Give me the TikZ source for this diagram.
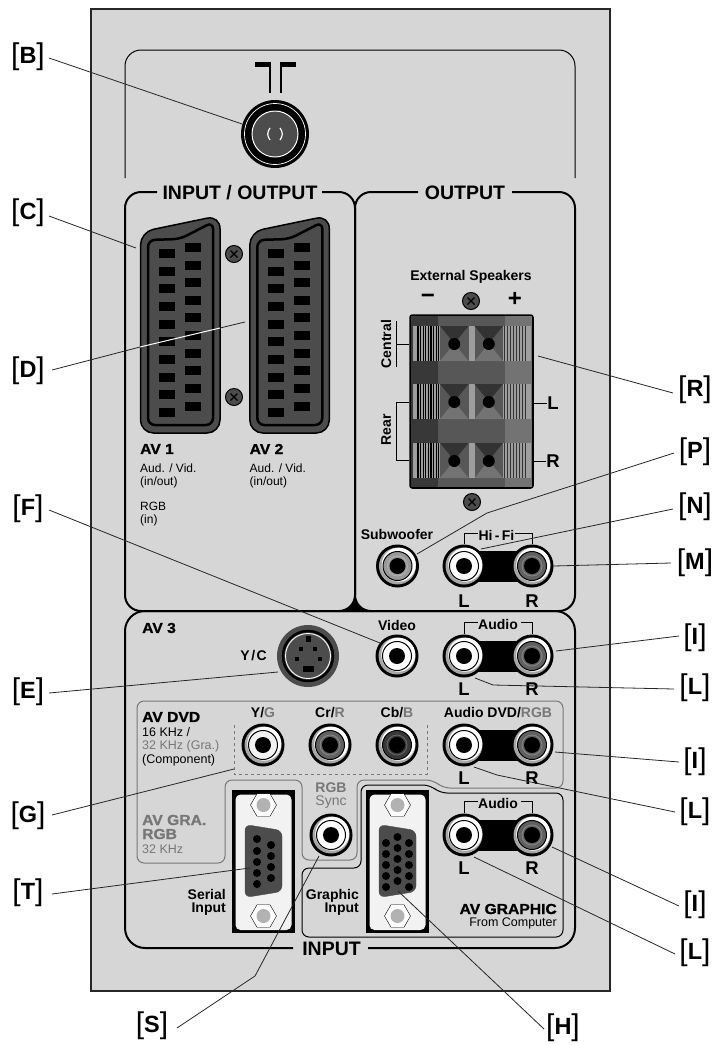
\documentclass[tikz,border=0pt]{standalone}
\usepackage{fontspec}
\setmainfont{Liberation Sans}
\newfontfamily\heavyfont[UprightFont=* Bold,FakeBold=1.0,FakeStretch=1.08]{Liberation Sans}
\usepackage{tikz}
\usetikzlibrary{shapes.geometric, positioning, calc}
\definecolor{panelgray}{HTML}{D6D6D6}
\definecolor{metal}{HTML}{4C4C4C}
\definecolor{softgray}{HTML}{777777}
\definecolor{cream}{HTML}{F2F2F2}
\tikzstyle{leader} = [line width=0.8pt, black!85]
\tikzstyle{boxline} = [line width=2pt, rounded corners=16pt]
\tikzstyle{tag} = [font=\fontsize{23.5}{26}\selectfont, inner sep=0pt]
\tikzstyle{title} = [font=\fontsize{19.5}{22}\selectfont\bfseries, inner sep=0pt]
\tikzstyle{boldlabel} = [font=\fontsize{14}{14}\selectfont\bfseries, inner sep=0pt]
\tikzstyle{sidelabel} = [font=\fontsize{18.5}{20}\selectfont\bfseries, inner sep=0pt]
\tikzstyle{small} = [font=\fontsize{12}{14}\selectfont, inner sep=0pt, anchor=west]
\tikzstyle{heavy} = [font=\fontsize{14.5}{15}\selectfont\heavyfont, inner sep=0pt, anchor=west]
\tikzstyle{jackbody} = [circle, fill=black, minimum size=43pt, inner sep=0pt]
\tikzstyle{screw} = [circle, draw=black, line width=1pt, fill=metal, minimum size=17pt, inner sep=0pt]
\tikzstyle{nut} = [regular polygon, regular polygon sides=6, draw=black, fill=white, minimum size=26pt, inner sep=0pt]
\tikzset{every node/.style={align=center}}
\newcommand{\tagtext}[1]{{\fontsize{30}{30}\selectfont\raisebox{-1.4pt}{[}}\textbf{#1}{\fontsize{30}{30}\selectfont\raisebox{-1.4pt}{]}}}
\newcommand{\rcajack}[4]{
    \colorlet{jackfill}{#4}
    \node (#1) [jackbody] at (#2,#3) {};
    \fill [gray!70] (#1) circle (18.5pt);
    \fill [white] ($(#1)+(1.3,-1.3)$) circle (17pt);
    \draw [black, line width=1pt, fill=jackfill] (#1) circle (14.5pt);
    \draw [jackfill!75!white, line width=0.8pt] (#1) circle (10pt);
    \fill [black] (#1) circle (8pt);
}
\newcommand{\plugscrew}[3]{
    \node (#1) [screw] at (#2,#3) {};
    \draw [black, line width=1.2pt] ($(#1)+(-3.5,3.5)$) -- ($(#1)+(3.5,-3.5)$);
    \draw [black, line width=1.2pt] ($(#1)+(-3.5,-3.5)$) -- ($(#1)+(3.5,3.5)$);
}
\newcommand{\scart}[2]{
    \begin{scope}[xshift=#2pt]
    \node (#1) [inner sep=0pt, minimum width=80pt, minimum height=215pt] at (180,326) {};
    \draw [black, line width=1.5pt, fill=metal, rounded corners=13pt] (140.5,433) -- (140.5,232) -- (220,215.5) -- (220,433) -- cycle;
    \draw [black, line width=2.5pt, rounded corners=7pt] (148,425) -- (148,240) -- (180,239) -- (213,222) -- (213,425) -- cycle;
    \foreach \yy in {253.5,271.7,288.7,306,324,341,359,377,394,412}
        \fill [black] (158.7,\yy-4.5) rectangle (174.7,\yy+4.5);
    \foreach \yy in {247,265,282,300.7,317.7,335,353,370.7,388,406}
        \fill [black] (185,\yy-4.5) rectangle (201,\yy+4.5);
    \end{scope}
}
\newcommand{\dsubframe}[3]{
    \node (#1) [fill=black, minimum width=63pt, minimum height=143pt, inner sep=0pt] at (#2,#3) {};
    \fill [cream, rounded corners=5pt] ($(#1)+(-28,-67)$) rectangle ($(#1)+(28,68.5)$);
    \node (#1top) [nut] at ($(#1)+(0,-56.5)$) {};
    \node (#1low) [nut] at ($(#1)+(0,54.5)$) {};
    \fill [black!30] (#1top) circle (7pt);
    \fill [black!30] (#1low) circle (7pt);
    \draw [black!70, fill=metal, rounded corners=6pt] ($(#1)+(-18.5,-37)$) -- ($(#1)+(18.5,-31)$) -- ($(#1)+(18.5,30)$) -- ($(#1)+(-18.5,36)$) -- cycle;
}
\begin{document}
\begin{tikzpicture}[x=1pt,y=-1pt]
    \useasboundingbox (0,0) rectangle (715,1045);
    \node (panel) [draw=black!85, line width=2pt, fill=panelgray, minimum width=519pt, minimum height=982pt, inner sep=0pt] at (350.5,500) {};

    \draw [line width=1pt, rounded corners=16pt] (125,178) -- (125,50) -- (575,50) -- (575,178);
    \draw [boxline] (157,192) -- (125,192) -- (125,611) -- (355,611) -- (355,192) -- (322,192);
    \draw [boxline] (418,192) -- (355,192) -- (355,611) -- (575,611) -- (575,192) -- (512,192);
    \draw [boxline, rounded corners=20pt] (293,948) -- (125,948) -- (125,611) -- (575,611) -- (575,948) -- (368,948);
    \fill [black] (339,612) .. controls (348,610) and (353,606) .. (355,596) .. controls (357,606) and (362,610) .. (371,612) -- cycle;

    \node (ioTitle) [title] at (240,193) {INPUT / OUTPUT};
    \node (outTitle) [title] at (465,193) {OUTPUT};
    \node (inTitle) [title] at (331.5,949) {INPUT};

    \fill [black] (255,62) rectangle (271,67);
    \fill [black] (280,62) rectangle (296,67);
    \draw [black, line width=1.6pt] (270,64) -- (270,93);
    \draw [black, line width=1.6pt] (281,64) -- (281,93);
    \node (antenna) [circle, fill=black, minimum size=68pt, inner sep=0pt] at (275,134) {};
    \draw [white, line width=0.7pt] (antenna) circle (30.5pt);
    \draw [white, line width=1pt, fill=metal] (antenna) circle (23pt);
    \draw [white, line width=1.2pt] (270,128) .. controls (267,132) and (267,136) .. (270,140);
    \draw [white, line width=1.2pt] (280,128) .. controls (283,132) and (283,136) .. (280,140);

    \scart{avOne}{0}
    \scart{avTwo}{109.3}
    \plugscrew{screwA}{234}{254}
    \plugscrew{screwB}{234}{397}
    \node (avOneName) [heavy] at (140,449) {AV 1};
    \node (avOneKind) [small] at (140,468) {Aud. / Vid.};
    \node (avOneDir) [small] at (140,482) {(in/out)};
    \node (avOneRgb) [small] at (140,506) {RGB};
    \node (avOneIn) [small] at (140,520) {(in)};
    \node (avTwoName) [heavy] at (249.5,449) {AV 2};
    \node (avTwoKind) [small] at (249.5,468) {Aud. / Vid.};
    \node (avTwoDir) [small] at (249.5,482) {(in/out)};

    \node (speakerTitle) [boldlabel] at (471,277) {External Speakers};
    \node (minusSign) [font=\fontsize{24}{24}\selectfont\bfseries, inner sep=0pt] at (428,299) {\char"2212};
    \node (plusSign) [font=\fontsize{24}{24}\selectfont\bfseries, inner sep=0pt] at (515,299) {+};
    \plugscrew{screwC}{471}{301}
    \plugscrew{screwD}{472}{502}
    \node (speakers) [draw=black, line width=2.5pt, rounded corners=2pt, minimum width=122pt, minimum height=172pt, inner sep=0pt] at (471.5,401.5) {};
    \fill [black!78] (411,316) rectangle (438,487);
    \fill [black!66] (438,316) rectangle (505,487);
    \fill [black!55] (505,316) rectangle (532,487);
    \foreach \rowtop in {326,384,443} {
        \fill [black!38] (413,\rowtop) rectangle (531,\rowtop+35);
        \foreach \xx in {418,420.6,...,440} \draw [black, line width=1.1pt] (\xx,\rowtop) -- (\xx,\rowtop+35);
        \foreach \xx in {504,507,...,526} \draw [black!80, line width=0.9pt] (\xx,\rowtop) -- (\xx,\rowtop+35);
        \foreach \cellx in {440,474.5} {
            \fill [black!66] (\cellx,\rowtop) rectangle (\cellx+28.5,\rowtop+35);
            \fill [black!80] (\cellx,\rowtop) -- (\cellx+28.5,\rowtop) -- (\cellx+14.25,\rowtop+17.5) -- cycle;
            \fill [black!55] (\cellx,\rowtop+35) -- (\cellx+28.5,\rowtop+35) -- (\cellx+14.25,\rowtop+17.5) -- cycle;
            \fill [black] (\cellx+14.25,\rowtop+18) circle (6pt);
        }
    }
    \node (centralName) [boldlabel, rotate=90] at (386,344) {Central};
    \node (rearName) [boldlabel, rotate=90] at (386,430) {Rear};
    \coordinate (centralTick) at (396,344);
    \draw [line width=0.8pt] (396,321) -- (396,367);
    \draw [line width=0.8pt] (centralTick) -- (speakers.west |- centralTick);
    \coordinate (rearTop) at (396,402);
    \coordinate (rearLow) at (396,460);
    \draw [line width=0.8pt] (speakers.west |- rearTop) -- (rearTop) -- (rearLow) -- (speakers.west |- rearLow);
    \node (spkL) [sidelabel] at (553,403) {L};
    \node (spkR) [sidelabel] at (553,461) {R};
    \draw [line width=0.8pt] (speakers.east |- spkL) -- (spkL);
    \draw [line width=0.8pt] (speakers.east |- spkR) -- (spkR);

    \foreach \yy in {566,656,745,835} \fill [black] (464,\yy-15.5) rectangle (532,\yy+15.5);

    \node (subName) [boldlabel] at (397,534) {Subwoofer};
    \rcajack{subJack}{397.5}{566}{black!40}
    \node (hifiName) [boldlabel] at (496.5,535) {Hi\,-\,Fi};
    \rcajack{hifiL}{464}{566}{white}
    \rcajack{hifiR}{532}{566}{black!62}
    \draw [line width=0.9pt] (hifiL.north) -- (464,533) -- (478,533);
    \draw [line width=0.9pt] (hifiR.north) -- (532,533) -- (515,533);
    \node (hifiLName) [sidelabel] at (464,601) {L};
    \node (hifiRName) [sidelabel] at (532,601) {R};

    \node (avThree) [heavy] at (142,628) {AV 3};
    \node (ycName) [boldlabel, anchor=east] at (267,656) {Y\kern1.5pt/\kern1.5pt C};
    \node (svideo) [circle, fill=metal, minimum size=62pt, inner sep=0pt] at (308,656) {};
    \draw [black, line width=2.5pt] (svideo) circle (25pt);
    \draw [white, line width=0.9pt, fill=metal] (svideo) circle (22.5pt);
    \fill [black] (305.5,636) rectangle (310.5,642);
    \foreach \px/\py in {301/649,315/649,297/659,320/659} \fill [black] (\px-2,\py-2) rectangle (\px+2,\py+2);
    \fill [black] (302.5,666) rectangle (313.5,672);

    \node (videoName) [boldlabel] at (397,625) {Video};
    \rcajack{videoJack}{397}{656}{white}
    \node (audioName) [boldlabel] at (498,624) {Audio};
    \rcajack{audioL}{464}{656}{white}
    \rcajack{audioR}{532}{656}{black!62}
    \draw [line width=0.9pt] (audioL.north) -- (464,622.5) -- (478,622.5);
    \draw [line width=0.9pt] (audioR.north) -- (532,622.5) -- (521,622.5);
    \node (audioLName) [sidelabel] at (464,689) {L};
    \node (audioRName) [sidelabel] at (532,689) {R};

    \draw [softgray, line width=1pt, rounded corners=7pt] (137,701) -- (563,701) -- (563,788) -- (443,788) -- (433,780) -- (357,780) -- (357,860) -- (302,860) -- (302,780) -- (225,780) -- (225,863) -- (137,863) -- cycle;
    \draw [line width=1pt, rounded corners=7pt] (302,937) -- (302,868) -- (361,868) -- (361,785) -- (430,785) -- (440,793) -- (563,793) -- (563,937) -- cycle;
    \draw [softgray, line width=1pt, dashed] (234,725) -- (234,774) -- (427,774) -- (427,725);

    \node (dvdName) [heavy] at (142,717) {AV DVD};
    \node (dvdRate) [small, font=\fontsize{12.5}{14}\selectfont] at (142,732) {16 KHz /};
    \node (dvdGra) [small, font=\fontsize{12.5}{14}\selectfont, softgray] at (142,746) {32 KHz (Gra.)};
    \node (dvdComp) [small, font=\fontsize{12.5}{14}\selectfont] at (142,760) {(Component)};
    \node (graName) [heavy, softgray] at (142,820) {AV GRA.};
    \node (graRgb) [heavy, softgray] at (142,834) {RGB};
    \node (graRate) [small, font=\fontsize{12.5}{14}\selectfont, softgray] at (142,849) {32 KHz};

    \node (ygName) [boldlabel] at (263,713) {Y/\textcolor{softgray}{G}};
    \node (crName) [boldlabel] at (330,713) {Cr/\textcolor{softgray}{R}};
    \node (cbName) [boldlabel] at (397,713) {Cb/\textcolor{softgray}{B}};
    \rcajack{ygJack}{263}{745}{cream}
    \rcajack{crJack}{330}{745}{black!62}
    \rcajack{cbJack}{397}{745}{black!78}
    \node (dvdAudio) [boldlabel] at (498,713) {Audio DVD/\textcolor{softgray}{RGB}};
    \rcajack{dvdL}{464}{745}{white}
    \rcajack{dvdR}{532}{745}{black!62}
    \node (dvdLName) [sidelabel] at (464,778) {L};
    \node (dvdRName) [sidelabel] at (532,778) {R};

    \dsubframe{serial}{263.5}{861.5}
    \foreach \px/\py in {257/839,257/851,257/862,257/873,257/884,271/845,271/856,271/867,271/878} \fill [black] (\px,\py) circle (4pt);
    \node (serialName) [boldlabel, anchor=east, align=right, font=\fontsize{14}{13.5}\selectfont\bfseries] at (226,902.5) {Serial\\Input};
    \node (syncRgb) [boldlabel, softgray] at (331,788) {RGB};
    \node (syncName) [softgray, inner sep=0pt, font=\fontsize{14}{14}\selectfont] at (331,802) {Sync};
    \rcajack{syncJack}{331}{835}{white}
    \dsubframe{vga}{397.5}{861.5}
    \foreach \px in {386,409} \foreach \py in {843,854,865,876,887} \fill [black] (\px,\py) circle (4pt);
    \foreach \py in {837,848,859,870,881} \fill [black] (397.5,\py) circle (4pt);
    \node (graphicName) [boldlabel, anchor=east, align=right, font=\fontsize{14}{13.5}\selectfont\bfseries] at (359,902.5) {Graphic\\Input};
    \node (gAudioName) [boldlabel] at (498,803) {Audio};
    \rcajack{gaudioL}{464}{835}{white}
    \rcajack{gaudioR}{532}{835}{black!62}
    \draw [line width=0.9pt] (gaudioL.north) -- (464,801.5) -- (478,801.5);
    \draw [line width=0.9pt] (gaudioR.north) -- (532,801.5) -- (521,801.5);
    \node (gLName) [sidelabel] at (464,868) {L};
    \node (gRName) [sidelabel] at (532,868) {R};
    \node (computerName) [heavy, anchor=east] at (557,909) {AV GRAPHIC};
    \node (computerFrom) [small, anchor=east, font=\fontsize{12.5}{14}\selectfont] at (557,923) {From Computer};

    \node (tagB) [tag] at (28,57) {\tagtext{B}};
    \node (tagC) [tag] at (28,213) {\tagtext{C}};
    \node (tagD) [tag] at (28,371) {\tagtext{D}};
    \node (tagF) [tag] at (28,509) {\tagtext{F}};
    \node (tagE) [tag] at (28,692) {\tagtext{E}};
    \node (tagG) [tag] at (28,816) {\tagtext{G}};
    \node (tagT) [tag] at (28,893) {\tagtext{T}};
    \node (tagS) [tag] at (152,1026) {\tagtext{S}};
    \node (tagH) [tag] at (563,1028) {\tagtext{H}};
    \node (tagR) [tag] at (695,390) {\tagtext{R}};
    \node (tagP) [tag] at (695,452) {\tagtext{P}};
    \node (tagN) [tag] at (695,507) {\tagtext{N}};
    \node (tagM) [tag] at (695,563) {\tagtext{M}};
    \node (tagIa) [tag] at (695,638) {\tagtext{I}};
    \node (tagLa) [tag] at (695,688) {\tagtext{L}};
    \node (tagIb) [tag] at (695,762) {\tagtext{I}};
    \node (tagLb) [tag] at (695,812) {\tagtext{L}};
    \node (tagIc) [tag] at (695,905) {\tagtext{I}};
    \node (tagLc) [tag] at (695,953) {\tagtext{L}};

    \coordinate (leftB) at (49,58);
    \coordinate (leftC) at (49,216);
    \coordinate (leftD) at (52,370);
    \coordinate (leftF) at (49,510);
    \coordinate (leftE) at (49,693);
    \coordinate (leftG) at (52,815);
    \coordinate (leftT) at (52,894);
    \coordinate (rightR) at (673,393);
    \coordinate (rightP) at (674,453);
    \coordinate (rightN) at (673,509);
    \coordinate (rightM) at (671,563);
    \coordinate (rightIa) at (679,636);
    \coordinate (rightLa) at (674,689);
    \coordinate (rightIb) at (679,762);
    \coordinate (rightLb) at (675,812);
    \coordinate (rightIc) at (679,906);
    \coordinate (rightLc) at (675,954);
    \coordinate (lowS) at (177,1028);
    \coordinate (lowH) at (544,1029);
    \coordinate (kneeS) at (255,976);
    \coordinate (kneeP) at (487,513);
    \coordinate (kneeLa) at (493,685);
    \coordinate (kneeLb) at (497,775);
    \coordinate (entryD) at (140,347);
    \coordinate (exitD) at (220,328);

    \draw [leader] (leftB) -- (242,124);
    \draw [leader] (leftC) -- (136,248);
    \draw [leader] (leftD) -- (entryD);
    \draw [white, line width=1pt] (entryD) -- (exitD);
    \draw [leader] (exitD) -- (245,322);
    \draw [leader] (leftF) -- (380,643);
    \draw [leader] (leftE) -- (278,672);
    \draw [leader] (leftG) -- (234,769);
    \draw [leader] (leftT) -- (250,868);
    \draw [leader] (lowS) -- (kneeS) -- (319,856);
    \draw [leader] (lowH) -- (398,891);
    \draw [leader] (rightR) -- (538,356);
    \draw [leader] (rightP) -- (kneeP) -- (417,554);
    \draw [leader] (rightN) -- (481,549);
    \draw [leader] (rightM) -- (553,566);
    \draw [leader] (rightIa) -- (556,651);
    \draw [leader] (rightLa) -- (kneeLa) -- (475,678);
    \draw [leader] (rightIb) -- (555,752);
    \draw [leader] (rightLb) -- (kneeLb) -- (474,767);
    \draw [leader] (rightIc) -- (552,847);
    \draw [leader] (rightLc) -- (474,857);
\end{tikzpicture}
\end{document}
